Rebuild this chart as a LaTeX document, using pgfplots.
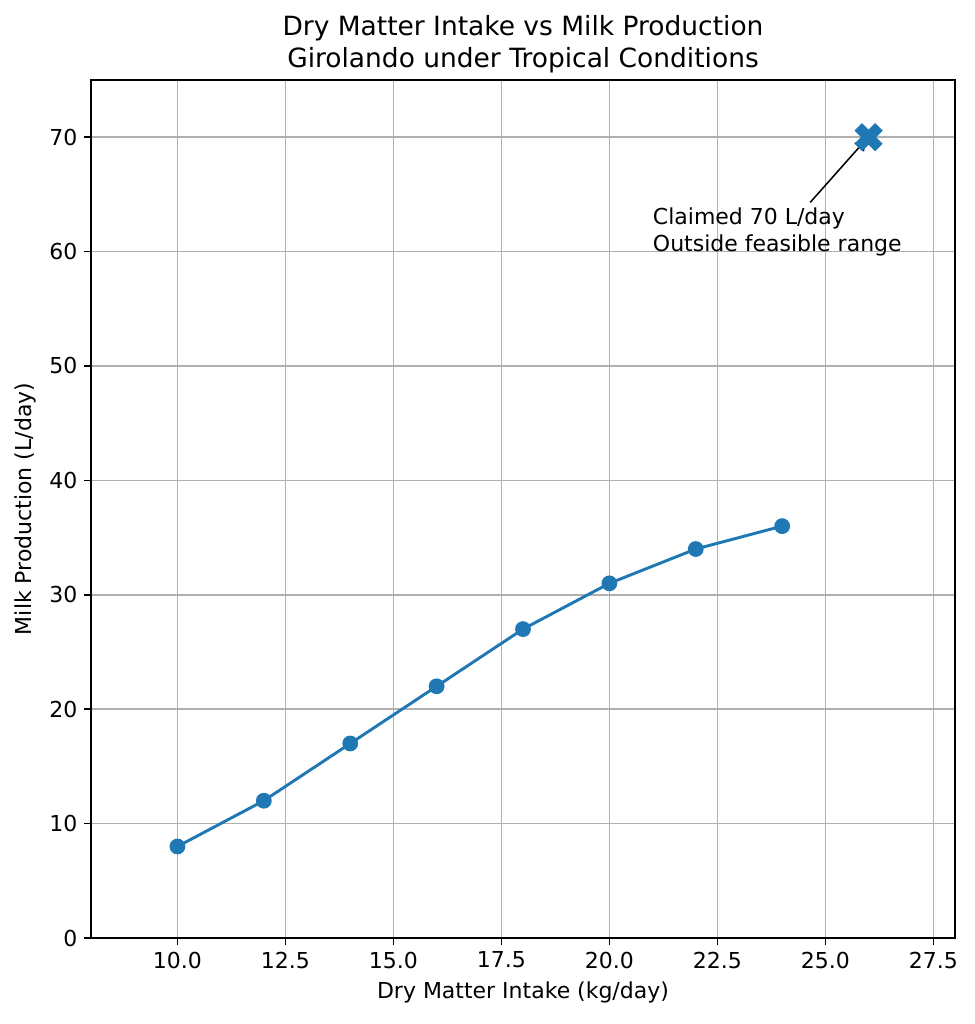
\documentclass[border=0pt]{standalone}
\usepackage{fontspec}
\setmainfont{DejaVu Sans}
\usepackage{pgfplots}
\pgfplotsset{compat=1.18}
\usetikzlibrary{arrows.meta}
\definecolor{C0}{HTML}{1F77B4}
\begin{document}
\begin{tikzpicture}
\begin{axis}[
  scale only axis,
  width=444pt, height=441pt,
  xmin=8, xmax=28, ymin=0, ymax=75,
  xtick={10,12.5,15,17.5,20,22.5,25,27.5},
  ytick={0,10,20,30,40,50,60,70},
  xticklabel style={/pgf/number format/.cd,fixed,fixed zerofill,precision=1},
  /pgf/number format/assume math mode=true,
  ticklabel style={font=\fontsize{11.3}{13.5}\selectfont},
  grid=major,
  major grid style={color=black!31, line width=0.8pt},
  axis line style={line width=0.8pt},
  tick style={black, line width=0.8pt},
  tick align=outside,
  major tick length=3.5pt,
  xtick pos=bottom, ytick pos=left,
  xlabel={Dry Matter Intake (kg/day)},
  ylabel={Milk Production (L/day)},
  label style={font=\fontsize{11.3}{13.5}\selectfont},
  title={Dry Matter Intake vs Milk Production\\Girolando under Tropical Conditions},
  title style={font=\fontsize{13.6}{16.4}\selectfont, align=center, yshift=-6pt},
  clip=false,
]
\coordinate (bl) at (rel axis cs:0,0);
\coordinate (tr) at (rel axis cs:1,1);
\addplot[C0, line width=1.5pt, mark=*, mark size=3.3pt, mark options={solid, fill=C0, draw=C0}]
  coordinates {(10,8) (12,12) (14,17) (16,22) (18,27) (20,31) (22,34) (24,36)};
\addplot[only marks, C0, mark=x, mark size=7.5pt, mark options={line width=5.5pt, line cap=butt}]
  coordinates {(26,70)};
\node[anchor=base west, align=left, font=\fontsize{11.3}{14}\selectfont, inner sep=0pt] at (axis cs:21,60) {Claimed 70 L/day\\Outside feasible range};
\draw[-{Straight Barb[length=4pt, width=6pt]}, line width=0.8pt] (axis cs:24.65,64.3) -- (axis cs:25.92,69.7);
\end{axis}
\pgfresetboundingbox
\path ([shift={(-46.8pt,-44.2pt)}]bl) rectangle ([shift={(9.8pt,41.1pt)}]tr);
\end{tikzpicture}
\end{document}
